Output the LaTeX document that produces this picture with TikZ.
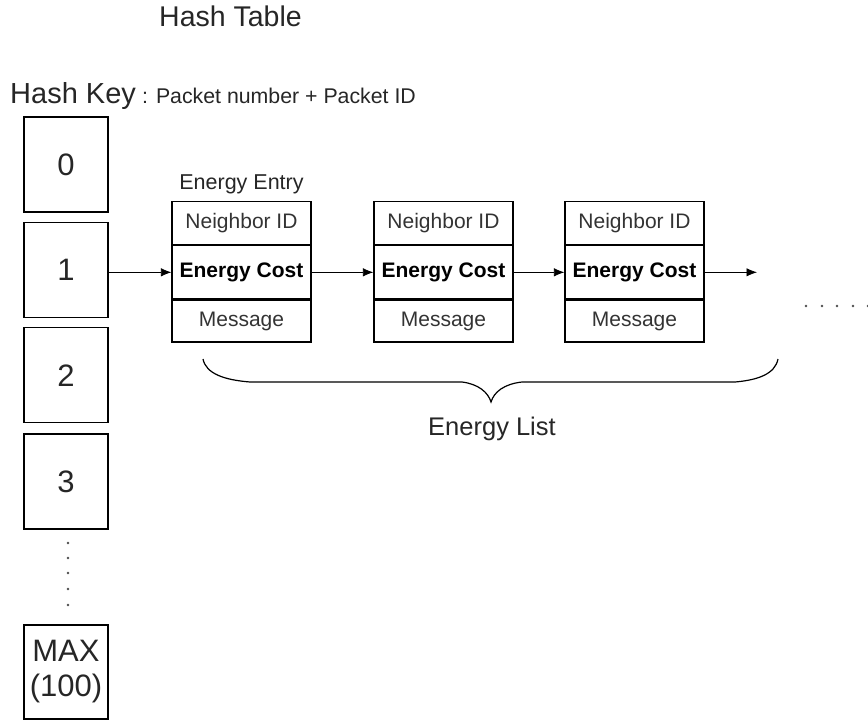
\documentclass[tikz,border=0pt]{standalone}
\usepackage{fontspec}
\setmainfont{Liberation Sans}
\usetikzlibrary{arrows.meta}

\newcommand{\fsz}[1]{\fontsize{#1}{#1}\selectfont}

\begin{document}
\begin{tikzpicture}[x=1pt,y=-1pt,
  txt/.style={inner sep=0pt,text=black!85},
  slot/.style={draw,line width=1.2pt,minimum width=84pt,minimum height=95pt,
               inner sep=0pt,align=center,text=black!85,font=\fsz{31}},
  cell/.style={draw,line width=1.2pt,minimum width=139pt,inner sep=0pt,
               anchor=north,font=\fsz{21}},
  idrow/.style={cell,minimum height=43pt,text=black!80},
  costrow/.style={cell,minimum height=53pt,font=\fsz{21}\bfseries,text=black},
  msgrow/.style={cell,minimum height=42pt,text=black!80},
  link/.style={line width=0.8pt,-{Latex[length=10.5pt,width=8.5pt]}},
  dotmark/.style={fill=black!70,draw=none}
]
\useasboundingbox (0,0) rectangle (868,721);

% titles
\node[txt,anchor=base,font=\fsz{28.5}] (title) at (230.5,26) {Hash Table};
\node[txt,anchor=base west,font=\fsz{29}] (hkey) at (10,103) {Hash Key};
\node[txt,anchor=base west,font=\fsz{21.3}] (hkdesc) at (142,103) {: Packet number + Packet ID};

% hash table slots
\node[slot] (h0) at (66,164.5) {0};
\node[slot] (h1) at (66,269.8) {1};
\node[slot] (h2) at (66,375.3) {2};
\node[slot] (h3) at (66,481.5) {3};
\node[slot,minimum height=94pt,font=\fontsize{31}{35}\selectfont] (hmax) at (66,672) {MAX\\(100)};

% vertical ellipsis between slot 3 and MAX
\foreach \yy in {543,558,573,589,605}
  \fill[dotmark] (68,\yy) circle (1.3pt);

% energy entries
\node[txt,anchor=base,font=\fsz{21.5}] (entrylbl) at (241.5,189) {Energy Entry};
\foreach \i/\xx in {1/241.5,2/443.5,3/634.5}{
  \node[idrow] (n\i) at (\xx,201) {Neighbor ID};
  \node[costrow] (c\i) at (n\i.south) {Energy Cost};
  \node[msgrow] (m\i) at (c\i.south) {Message};
}

% links of the energy list
\coordinate (tail) at (757,270.5);
\draw[link] (h1.east |- c1.west) -- (c1.west);
\draw[link] (c1.east) -- (c2.west);
\draw[link] (c2.east) -- (c3.west);
\draw[link] (c3.east) -- (c3.east -| tail);

% horizontal ellipsis after the list
\foreach \xx in {806,822,837,853,868}
  \fill[dotmark] (\xx,306) circle (1.3pt);

% brace under the list
\coordinate (bl) at (203,359);
\coordinate (bt) at (491,402);
\coordinate (br) at (778,359);
\draw[line width=1.2pt] (bl) .. controls (206,374) and (225,380) .. (250,382)
  -- (462,382) .. controls (478,384) and (488,392) .. (bt)
  .. controls (494,392) and (504,384) .. (522,382)
  -- (735,382) .. controls (758,380) and (775,374) .. (br);
\node[txt,anchor=base,font=\fsz{25.5}] (listlbl) at (492,435) {Energy List};
\end{tikzpicture}
\end{document}
